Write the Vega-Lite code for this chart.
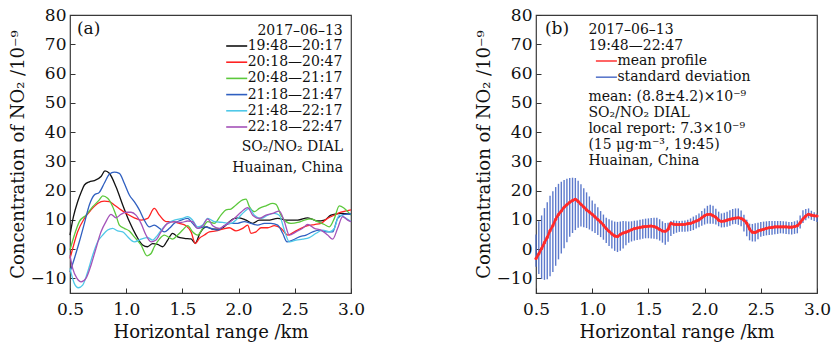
{
  "$schema": "https://vega.github.io/schema/vega-lite/v6.json",
  "autosize": {"type": "pad"},
  "padding": {"left": 8, "top": 5, "right": 0, "bottom": 0},
  "background": "white",
  "bounds": "flush",
  "spacing": 185,
  "config": {
    "font": "DejaVu Serif",
    "view": {"stroke": "#3a3a3a", "strokeWidth": 1.2},
    "axis": {
      "labelFont": "DejaVu Serif", "titleFont": "DejaVu Serif",
      "labelFontSize": 17, "titleFontSize": 18, "titleFontWeight": "normal",
      "labelColor": "#111", "titleColor": "#111",
      "domain": false, "grid": false, "tickColor": "#333", "tickSize": -5, "tickWidth": 1,
      "labelFlush": false, "labelOverlap": false, "labelSeparation": 0, "tickCount": 20
    },
    "axisX": {"labelPadding": 13, "minExtent": 24, "maxExtent": 24, "titlePadding": 6},
    "axisY": {"labelPadding": 9, "minExtent": 38, "maxExtent": 38, "titlePadding": 5},
    "legend": {
      "labelFont": "DejaVu Serif", "titleFont": "DejaVu Serif",
      "labelFontSize": 14, "titleFontSize": 14, "titleFontWeight": "normal",
      "labelColor": "#111", "titleColor": "#111",
      "symbolType": "M-1.5,0H1.5", "symbolSize": 196, "symbolStrokeWidth": 1.6,
      "rowPadding": 1.2, "labelOffset": 3, "padding": 0
    },
    "text": {"font": "DejaVu Serif", "color": "#111"}
  },
  "resolve": {"scale": {"color": "independent"}, "legend": {"color": "independent"}},
  "datasets": {
    "a": [
      {"t":"19:48—20:17","x":0.5,"y":4.8},{"t":"19:48—20:17","x":0.53,"y":11},{"t":"19:48—20:17","x":0.568,"y":16.2},{"t":"19:48—20:17","x":0.6,"y":19.5},{"t":"19:48—20:17","x":0.628,"y":21.9},{"t":"19:48—20:17","x":0.672,"y":23},{"t":"19:48—20:17","x":0.716,"y":23.4},{"t":"19:48—20:17","x":0.776,"y":24.8},{"t":"19:48—20:17","x":0.811,"y":26.7},{"t":"19:48—20:17","x":0.85,"y":25.9},{"t":"19:48—20:17","x":0.909,"y":21.3},{"t":"19:48—20:17","x":0.969,"y":15.1},{"t":"19:48—20:17","x":1.028,"y":9.4},{"t":"19:48—20:17","x":1.087,"y":4.8},{"t":"19:48—20:17","x":1.146,"y":1.4},{"t":"19:48—20:17","x":1.19,"y":0.8},{"t":"19:48—20:17","x":1.235,"y":1.9},{"t":"19:48—20:17","x":1.28,"y":1.6},{"t":"19:48—20:17","x":1.324,"y":0.8},{"t":"19:48—20:17","x":1.369,"y":3.1},{"t":"19:48—20:17","x":1.413,"y":5.4},{"t":"19:48—20:17","x":1.458,"y":4.2},{"t":"19:48—20:17","x":1.517,"y":3.7},{"t":"19:48—20:17","x":1.577,"y":3.5},{"t":"19:48—20:17","x":1.615,"y":2.0},{"t":"19:48—20:17","x":1.654,"y":5.3},{"t":"19:48—20:17","x":1.713,"y":7.6},{"t":"19:48—20:17","x":1.77,"y":6.8},{"t":"19:48—20:17","x":1.846,"y":7.0},{"t":"19:48—20:17","x":1.903,"y":8.8},{"t":"19:48—20:17","x":1.962,"y":10.5},{"t":"19:48—20:17","x":2.006,"y":10.7},{"t":"19:48—20:17","x":2.066,"y":9.9},{"t":"19:48—20:17","x":2.125,"y":8.8},{"t":"19:48—20:17","x":2.184,"y":9.9},{"t":"19:48—20:17","x":2.259,"y":9.9},{"t":"19:48—20:17","x":2.348,"y":10.5},{"t":"19:48—20:17","x":2.437,"y":9.9},{"t":"19:48—20:17","x":2.526,"y":9.9},{"t":"19:48—20:17","x":2.615,"y":10.7},{"t":"19:48—20:17","x":2.703,"y":9.6},{"t":"19:48—20:17","x":2.763,"y":9.9},{"t":"19:48—20:17","x":2.822,"y":11.6},{"t":"19:48—20:17","x":2.911,"y":12.2},{"t":"19:48—20:17","x":3.0,"y":11.9},
      {"t":"20:18—20:47","x":0.5,"y":-3.2},{"t":"20:18—20:47","x":0.524,"y":0.2},{"t":"20:18—20:47","x":0.568,"y":5.9},{"t":"20:18—20:47","x":0.628,"y":10.5},{"t":"20:18—20:47","x":0.687,"y":13.4},{"t":"20:18—20:47","x":0.746,"y":15.6},{"t":"20:18—20:47","x":0.805,"y":16.4},{"t":"20:18—20:47","x":0.85,"y":16.2},{"t":"20:18—20:47","x":0.894,"y":15.1},{"t":"20:18—20:47","x":0.954,"y":13.4},{"t":"20:18—20:47","x":1.013,"y":11.9},{"t":"20:18—20:47","x":1.072,"y":10.7},{"t":"20:18—20:47","x":1.132,"y":9.9},{"t":"20:18—20:47","x":1.191,"y":10.5},{"t":"20:18—20:47","x":1.25,"y":13.9},{"t":"20:18—20:47","x":1.295,"y":11.6},{"t":"20:18—20:47","x":1.354,"y":9.4},{"t":"20:18—20:47","x":1.413,"y":9.4},{"t":"20:18—20:47","x":1.473,"y":8.8},{"t":"20:18—20:47","x":1.532,"y":8.0},{"t":"20:18—20:47","x":1.577,"y":5.9},{"t":"20:18—20:47","x":1.615,"y":1.9},{"t":"20:18—20:47","x":1.651,"y":3.7},{"t":"20:18—20:47","x":1.695,"y":4.8},{"t":"20:18—20:47","x":1.74,"y":5.9},{"t":"20:18—20:47","x":1.799,"y":6.2},{"t":"20:18—20:47","x":1.858,"y":6.8},{"t":"20:18—20:47","x":1.918,"y":7.3},{"t":"20:18—20:47","x":1.977,"y":6.2},{"t":"20:18—20:47","x":2.036,"y":7.1},{"t":"20:18—20:47","x":2.081,"y":8.2},{"t":"20:18—20:47","x":2.11,"y":5.4},{"t":"20:18—20:47","x":2.155,"y":5.9},{"t":"20:18—20:47","x":2.2,"y":7.3},{"t":"20:18—20:47","x":2.259,"y":7.3},{"t":"20:18—20:47","x":2.318,"y":8.0},{"t":"20:18—20:47","x":2.377,"y":7.1},{"t":"20:18—20:47","x":2.437,"y":4.8},{"t":"20:18—20:47","x":2.496,"y":5.9},{"t":"20:18—20:47","x":2.555,"y":7.1},{"t":"20:18—20:47","x":2.615,"y":8.0},{"t":"20:18—20:47","x":2.674,"y":8.4},{"t":"20:18—20:47","x":2.733,"y":8.8},{"t":"20:18—20:47","x":2.792,"y":10.5},{"t":"20:18—20:47","x":2.852,"y":11.6},{"t":"20:18—20:47","x":2.911,"y":12.6},{"t":"20:18—20:47","x":3.0,"y":13.4},
      {"t":"20:48—21:17","x":0.5,"y":-0.3},{"t":"20:48—21:17","x":0.539,"y":4.8},{"t":"20:48—21:17","x":0.583,"y":9.4},{"t":"20:48—21:17","x":0.642,"y":11.6},{"t":"20:48—21:17","x":0.702,"y":14.5},{"t":"20:48—21:17","x":0.761,"y":16.8},{"t":"20:48—21:17","x":0.791,"y":18.2},{"t":"20:48—21:17","x":0.835,"y":17.4},{"t":"20:48—21:17","x":0.88,"y":14.5},{"t":"20:48—21:17","x":0.909,"y":11.6},{"t":"20:48—21:17","x":0.939,"y":8.2},{"t":"20:48—21:17","x":0.983,"y":7.1},{"t":"20:48—21:17","x":1.028,"y":6.2},{"t":"20:48—21:17","x":1.072,"y":4.2},{"t":"20:48—21:17","x":1.132,"y":1.4},{"t":"20:48—21:17","x":1.185,"y":-2.3},{"t":"20:48—21:17","x":1.221,"y":-1.5},{"t":"20:48—21:17","x":1.25,"y":0.8},{"t":"20:48—21:17","x":1.295,"y":3.4},{"t":"20:48—21:17","x":1.339,"y":4.8},{"t":"20:48—21:17","x":1.384,"y":3.9},{"t":"20:48—21:17","x":1.413,"y":3.4},{"t":"20:48—21:17","x":1.458,"y":4.8},{"t":"20:48—21:17","x":1.502,"y":6.5},{"t":"20:48—21:17","x":1.547,"y":8.0},{"t":"20:48—21:17","x":1.591,"y":5.9},{"t":"20:48—21:17","x":1.636,"y":4.8},{"t":"20:48—21:17","x":1.68,"y":7.1},{"t":"20:48—21:17","x":1.725,"y":9.4},{"t":"20:48—21:17","x":1.784,"y":8.8},{"t":"20:48—21:17","x":1.843,"y":11.6},{"t":"20:48—21:17","x":1.888,"y":13.4},{"t":"20:48—21:17","x":1.932,"y":13.7},{"t":"20:48—21:17","x":1.977,"y":15.1},{"t":"20:48—21:17","x":2.036,"y":16.8},{"t":"20:48—21:17","x":2.066,"y":17.1},{"t":"20:48—21:17","x":2.096,"y":14.5},{"t":"20:48—21:17","x":2.14,"y":12.8},{"t":"20:48—21:17","x":2.184,"y":13.9},{"t":"20:48—21:17","x":2.244,"y":14.8},{"t":"20:48—21:17","x":2.303,"y":15.6},{"t":"20:48—21:17","x":2.333,"y":15.3},{"t":"20:48—21:17","x":2.377,"y":11.6},{"t":"20:48—21:17","x":2.422,"y":9.4},{"t":"20:48—21:17","x":2.466,"y":8.8},{"t":"20:48—21:17","x":2.526,"y":9.1},{"t":"20:48—21:17","x":2.585,"y":9.9},{"t":"20:48—21:17","x":2.644,"y":10.3},{"t":"20:48—21:17","x":2.703,"y":9.4},{"t":"20:48—21:17","x":2.763,"y":8.4},{"t":"20:48—21:17","x":2.807,"y":7.6},{"t":"20:48—21:17","x":2.852,"y":10.5},{"t":"20:48—21:17","x":2.896,"y":14.8},{"t":"20:48—21:17","x":2.941,"y":13.9},{"t":"20:48—21:17","x":3.0,"y":11.6},
      {"t":"21:18—21:47","x":0.5,"y":-7.8},{"t":"21:18—21:47","x":0.539,"y":-3.2},{"t":"21:18—21:47","x":0.583,"y":2.5},{"t":"21:18—21:47","x":0.628,"y":8.8},{"t":"21:18—21:47","x":0.672,"y":15.1},{"t":"21:18—21:47","x":0.716,"y":18.5},{"t":"21:18—21:47","x":0.761,"y":19.4},{"t":"21:18—21:47","x":0.805,"y":22.5},{"t":"21:18—21:47","x":0.85,"y":25.6},{"t":"21:18—21:47","x":0.894,"y":26.3},{"t":"21:18—21:47","x":0.939,"y":25.9},{"t":"21:18—21:47","x":0.983,"y":22.5},{"t":"21:18—21:47","x":1.028,"y":18.5},{"t":"21:18—21:47","x":1.072,"y":16.2},{"t":"21:18—21:47","x":1.117,"y":13.4},{"t":"21:18—21:47","x":1.161,"y":9.9},{"t":"21:18—21:47","x":1.206,"y":7.6},{"t":"21:18—21:47","x":1.25,"y":8.2},{"t":"21:18—21:47","x":1.295,"y":7.1},{"t":"21:18—21:47","x":1.339,"y":5.9},{"t":"21:18—21:47","x":1.384,"y":7.1},{"t":"21:18—21:47","x":1.428,"y":8.8},{"t":"21:18—21:47","x":1.488,"y":9.9},{"t":"21:18—21:47","x":1.547,"y":10.5},{"t":"21:18—21:47","x":1.591,"y":8.8},{"t":"21:18—21:47","x":1.636,"y":7.1},{"t":"21:18—21:47","x":1.695,"y":7.6},{"t":"21:18—21:47","x":1.754,"y":7.1},{"t":"21:18—21:47","x":1.814,"y":6.5},{"t":"21:18—21:47","x":1.873,"y":8.0},{"t":"21:18—21:47","x":1.932,"y":8.8},{"t":"21:18—21:47","x":1.992,"y":8.8},{"t":"21:18—21:47","x":2.051,"y":9.4},{"t":"21:18—21:47","x":2.11,"y":8.8},{"t":"21:18—21:47","x":2.17,"y":8.2},{"t":"21:18—21:47","x":2.229,"y":8.8},{"t":"21:18—21:47","x":2.288,"y":8.8},{"t":"21:18—21:47","x":2.348,"y":8.2},{"t":"21:18—21:47","x":2.392,"y":5.4},{"t":"21:18—21:47","x":2.431,"y":2.5},{"t":"21:18—21:47","x":2.481,"y":3.1},{"t":"21:18—21:47","x":2.54,"y":4.2},{"t":"21:18—21:47","x":2.6,"y":4.8},{"t":"21:18—21:47","x":2.659,"y":5.9},{"t":"21:18—21:47","x":2.718,"y":6.5},{"t":"21:18—21:47","x":2.778,"y":5.9},{"t":"21:18—21:47","x":2.837,"y":5.9},{"t":"21:18—21:47","x":2.881,"y":10.5},{"t":"21:18—21:47","x":2.941,"y":11.9},{"t":"21:18—21:47","x":3.0,"y":12.0},
      {"t":"21:48—22:17","x":0.5,"y":-6.6},{"t":"21:48—22:17","x":0.539,"y":-11.8},{"t":"21:48—22:17","x":0.574,"y":-13.2},{"t":"21:48—22:17","x":0.613,"y":-12.3},{"t":"21:48—22:17","x":0.657,"y":-7.8},{"t":"21:48—22:17","x":0.702,"y":-2.1},{"t":"21:48—22:17","x":0.746,"y":2.5},{"t":"21:48—22:17","x":0.791,"y":4.8},{"t":"21:48—22:17","x":0.835,"y":6.5},{"t":"21:48—22:17","x":0.88,"y":7.1},{"t":"21:48—22:17","x":0.924,"y":6.2},{"t":"21:48—22:17","x":0.969,"y":5.9},{"t":"21:48—22:17","x":1.013,"y":4.2},{"t":"21:48—22:17","x":1.072,"y":2.5},{"t":"21:48—22:17","x":1.132,"y":3.4},{"t":"21:48—22:17","x":1.191,"y":3.9},{"t":"21:48—22:17","x":1.235,"y":3.1},{"t":"21:48—22:17","x":1.28,"y":4.8},{"t":"21:48—22:17","x":1.324,"y":7.1},{"t":"21:48—22:17","x":1.369,"y":8.8},{"t":"21:48—22:17","x":1.428,"y":9.9},{"t":"21:48—22:17","x":1.502,"y":10.5},{"t":"21:48—22:17","x":1.547,"y":11.1},{"t":"21:48—22:17","x":1.591,"y":9.9},{"t":"21:48—22:17","x":1.636,"y":7.6},{"t":"21:48—22:17","x":1.68,"y":8.2},{"t":"21:48—22:17","x":1.725,"y":10.5},{"t":"21:48—22:17","x":1.784,"y":9.4},{"t":"21:48—22:17","x":1.858,"y":9.1},{"t":"21:48—22:17","x":1.932,"y":8.8},{"t":"21:48—22:17","x":1.992,"y":10.5},{"t":"21:48—22:17","x":2.051,"y":12.8},{"t":"21:48—22:17","x":2.096,"y":13.9},{"t":"21:48—22:17","x":2.14,"y":11.6},{"t":"21:48—22:17","x":2.2,"y":10.5},{"t":"21:48—22:17","x":2.259,"y":11.6},{"t":"21:48—22:17","x":2.318,"y":12.2},{"t":"21:48—22:17","x":2.362,"y":11.6},{"t":"21:48—22:17","x":2.407,"y":6.5},{"t":"21:48—22:17","x":2.451,"y":2.5},{"t":"21:48—22:17","x":2.511,"y":3.1},{"t":"21:48—22:17","x":2.57,"y":3.4},{"t":"21:48—22:17","x":2.629,"y":3.9},{"t":"21:48—22:17","x":2.689,"y":5.4},{"t":"21:48—22:17","x":2.748,"y":6.5},{"t":"21:48—22:17","x":2.807,"y":5.9},{"t":"21:48—22:17","x":2.852,"y":7.1},{"t":"21:48—22:17","x":2.896,"y":11.6},{"t":"21:48—22:17","x":2.956,"y":10.5},{"t":"21:48—22:17","x":3.0,"y":9.4},
      {"t":"22:18—22:47","x":0.5,"y":-2.1},{"t":"22:18—22:47","x":0.524,"y":-6.6},{"t":"22:18—22:47","x":0.562,"y":-10},{"t":"22:18—22:47","x":0.598,"y":-11.2},{"t":"22:18—22:47","x":0.642,"y":-10},{"t":"22:18—22:47","x":0.687,"y":-5.5},{"t":"22:18—22:47","x":0.731,"y":0.2},{"t":"22:18—22:47","x":0.776,"y":5.9},{"t":"22:18—22:47","x":0.82,"y":9.4},{"t":"22:18—22:47","x":0.865,"y":11.9},{"t":"22:18—22:47","x":0.909,"y":10.7},{"t":"22:18—22:47","x":0.954,"y":11.9},{"t":"22:18—22:47","x":0.998,"y":12.6},{"t":"22:18—22:47","x":1.043,"y":12.6},{"t":"22:18—22:47","x":1.087,"y":11.6},{"t":"22:18—22:47","x":1.132,"y":8.8},{"t":"22:18—22:47","x":1.176,"y":4.8},{"t":"22:18—22:47","x":1.221,"y":2.5},{"t":"22:18—22:47","x":1.265,"y":3.1},{"t":"22:18—22:47","x":1.31,"y":5.9},{"t":"22:18—22:47","x":1.369,"y":8.8},{"t":"22:18—22:47","x":1.428,"y":9.4},{"t":"22:18—22:47","x":1.488,"y":9.1},{"t":"22:18—22:47","x":1.547,"y":9.6},{"t":"22:18—22:47","x":1.591,"y":9.4},{"t":"22:18—22:47","x":1.636,"y":7.1},{"t":"22:18—22:47","x":1.68,"y":8.0},{"t":"22:18—22:47","x":1.725,"y":10.3},{"t":"22:18—22:47","x":1.769,"y":8.0},{"t":"22:18—22:47","x":1.828,"y":7.1},{"t":"22:18—22:47","x":1.903,"y":8.8},{"t":"22:18—22:47","x":1.962,"y":10.5},{"t":"22:18—22:47","x":2.021,"y":12.6},{"t":"22:18—22:47","x":2.081,"y":14.2},{"t":"22:18—22:47","x":2.125,"y":11.6},{"t":"22:18—22:47","x":2.184,"y":10.5},{"t":"22:18—22:47","x":2.244,"y":11.6},{"t":"22:18—22:47","x":2.303,"y":12.2},{"t":"22:18—22:47","x":2.362,"y":13.0},{"t":"22:18—22:47","x":2.407,"y":9.4},{"t":"22:18—22:47","x":2.451,"y":4.8},{"t":"22:18—22:47","x":2.511,"y":5.9},{"t":"22:18—22:47","x":2.57,"y":7.1},{"t":"22:18—22:47","x":2.615,"y":8.4},{"t":"22:18—22:47","x":2.674,"y":7.1},{"t":"22:18—22:47","x":2.733,"y":6.5},{"t":"22:18—22:47","x":2.792,"y":4.8},{"t":"22:18—22:47","x":2.837,"y":3.4},{"t":"22:18—22:47","x":2.881,"y":7.1},{"t":"22:18—22:47","x":2.926,"y":11.1},{"t":"22:18—22:47","x":2.97,"y":9.9},{"t":"22:18—22:47","x":3.0,"y":9.4}
    ],
    "b": [
      {"x":0.5,"m":-3.2,"lo":-6,"hi":5},{"x":0.525,"m":-1.6,"lo":-8.5,"hi":9.5},{"x":0.55,"m":0.2,"lo":-10.2,"hi":11.5},{"x":0.575,"m":2.2,"lo":-10.5,"hi":14},{"x":0.6,"m":4.0,"lo":-10.3,"hi":16},{"x":0.625,"m":6.3,"lo":-9.3,"hi":18.2},{"x":0.65,"m":8.0,"lo":-7.8,"hi":19.8},{"x":0.675,"m":10.2,"lo":-5.7,"hi":21.2},{"x":0.7,"m":11.8,"lo":-3.5,"hi":22.3},{"x":0.725,"m":13.0,"lo":-1.5,"hi":23.0},
      {"x":0.75,"m":14.3,"lo":0.3,"hi":23.6},{"x":0.775,"m":15.2,"lo":2.3,"hi":24.0},{"x":0.8,"m":16.0,"lo":4.2,"hi":24.3},{"x":0.825,"m":16.6,"lo":5.5,"hi":24.4},{"x":0.85,"m":17.0,"lo":6.5,"hi":24.3},{"x":0.875,"m":16.3,"lo":7.3,"hi":23.4},{"x":0.9,"m":15.3,"lo":7.7,"hi":22.2},{"x":0.925,"m":14.4,"lo":7.5,"hi":20.8},{"x":0.95,"m":13.4,"lo":7.2,"hi":19.4},{"x":0.975,"m":12.7,"lo":6.7,"hi":18.0},
      {"x":1.0,"m":11.9,"lo":6.1,"hi":16.6},{"x":1.025,"m":11.0,"lo":5.5,"hi":15.5},{"x":1.05,"m":10.1,"lo":4.8,"hi":14.3},{"x":1.075,"m":9.2,"lo":4.1,"hi":13.0},{"x":1.1,"m":8.2,"lo":3.2,"hi":11.8},{"x":1.125,"m":7.0,"lo":2.1,"hi":10.7},{"x":1.15,"m":6.1,"lo":1.1,"hi":10.2},{"x":1.175,"m":5.2,"lo":0.2,"hi":9.8},{"x":1.2,"m":4.5,"lo":-0.6,"hi":9.4},{"x":1.225,"m":4.3,"lo":-1.0,"hi":9.3},
      {"x":1.25,"m":5.0,"lo":-0.6,"hi":9.4},{"x":1.275,"m":5.5,"lo":0.2,"hi":9.6},{"x":1.3,"m":5.8,"lo":1.3,"hi":9.5},{"x":1.325,"m":6.2,"lo":2.2,"hi":9.4},{"x":1.35,"m":6.6,"lo":2.6,"hi":9.5},{"x":1.375,"m":7.0,"lo":2.9,"hi":9.7},{"x":1.4,"m":7.2,"lo":3.1,"hi":9.8},{"x":1.425,"m":7.4,"lo":3.3,"hi":10.0},{"x":1.45,"m":7.6,"lo":3.5,"hi":10.2},{"x":1.475,"m":7.7,"lo":3.7,"hi":10.4},
      {"x":1.5,"m":7.8,"lo":3.7,"hi":10.5},{"x":1.525,"m":7.9,"lo":3.6,"hi":10.6},{"x":1.55,"m":7.7,"lo":3.5,"hi":10.7},{"x":1.575,"m":7.3,"lo":3.4,"hi":10.7},{"x":1.6,"m":6.7,"lo":2.9,"hi":10.2},{"x":1.625,"m":6.2,"lo":2.2,"hi":9.5},{"x":1.65,"m":6.1,"lo":1.5,"hi":8.9},{"x":1.675,"m":6.8,"lo":2.5,"hi":9.0},{"x":1.7,"m":8.8,"lo":4.5,"hi":9.6},{"x":1.725,"m":8.5,"lo":5.2,"hi":9.8},
      {"x":1.75,"m":8.4,"lo":5.6,"hi":9.7},{"x":1.775,"m":8.4,"lo":5.9,"hi":9.6},{"x":1.8,"m":8.4,"lo":5.9,"hi":9.7},{"x":1.825,"m":8.5,"lo":5.9,"hi":9.8},{"x":1.85,"m":8.7,"lo":6.0,"hi":10.0},{"x":1.875,"m":8.8,"lo":6.2,"hi":10.5},{"x":1.9,"m":9.2,"lo":6.5,"hi":11.1},{"x":1.925,"m":9.6,"lo":7.0,"hi":11.6},{"x":1.95,"m":10.0,"lo":7.5,"hi":12.2},{"x":1.975,"m":10.7,"lo":8.0,"hi":13.0},
      {"x":2.0,"m":11.4,"lo":8.4,"hi":13.9},{"x":2.025,"m":11.8,"lo":8.7,"hi":14.8},{"x":2.05,"m":11.9,"lo":8.7,"hi":15.2},{"x":2.075,"m":11.4,"lo":8.7,"hi":14.8},{"x":2.1,"m":10.9,"lo":8.4,"hi":13.8},{"x":2.125,"m":9.9,"lo":7.8,"hi":12.8},{"x":2.15,"m":9.5,"lo":7.4,"hi":12.2},{"x":2.175,"m":9.6,"lo":7.5,"hi":12.4},{"x":2.2,"m":9.9,"lo":7.6,"hi":12.8},{"x":2.225,"m":10.2,"lo":8.0,"hi":13.3},
      {"x":2.25,"m":10.4,"lo":8.5,"hi":13.7},{"x":2.275,"m":10.6,"lo":8.6,"hi":13.9},{"x":2.3,"m":10.7,"lo":8.3,"hi":13.9},{"x":2.325,"m":10.5,"lo":7.8,"hi":13.2},{"x":2.35,"m":9.9,"lo":6.0,"hi":11.7},{"x":2.375,"m":8.8,"lo":4.4,"hi":10.0},{"x":2.4,"m":6.9,"lo":3.0,"hi":8.7},{"x":2.425,"m":5.8,"lo":2.6,"hi":8.6},{"x":2.45,"m":5.7,"lo":2.6,"hi":8.8},{"x":2.475,"m":6.2,"lo":3.4,"hi":9.0},
      {"x":2.5,"m":6.5,"lo":4.2,"hi":9.3},{"x":2.525,"m":6.8,"lo":4.5,"hi":9.4},{"x":2.55,"m":7.1,"lo":4.7,"hi":9.5},{"x":2.575,"m":7.3,"lo":4.8,"hi":9.6},{"x":2.6,"m":7.4,"lo":4.9,"hi":9.6},{"x":2.625,"m":7.6,"lo":5.1,"hi":9.6},{"x":2.65,"m":7.6,"lo":5.2,"hi":9.6},{"x":2.675,"m":7.6,"lo":5.4,"hi":9.6},{"x":2.7,"m":7.6,"lo":5.3,"hi":9.5},{"x":2.725,"m":7.6,"lo":5.2,"hi":9.4},
      {"x":2.75,"m":7.5,"lo":5.1,"hi":9.3},{"x":2.775,"m":7.5,"lo":5.0,"hi":9.3},{"x":2.8,"m":7.7,"lo":5.2,"hi":9.5},{"x":2.825,"m":8.0,"lo":5.4,"hi":9.8},{"x":2.85,"m":9.0,"lo":7.0,"hi":11.5},{"x":2.875,"m":10.3,"lo":8.9,"hi":13.3},{"x":2.9,"m":11.3,"lo":9.9,"hi":13.7},{"x":2.925,"m":11.9,"lo":10.5,"hi":13.9},{"x":2.95,"m":11.6,"lo":10.0,"hi":13.1},{"x":2.975,"m":11.4,"lo":9.6,"hi":12.6},
      {"x":3.0,"m":11.3,"lo":9.3,"hi":12.2}
    ],
    "notesA": [{"tag": "(a)", "site": "SO₂/NO₂ DIAL\nHuainan, China"}],
    "notesB": [{"tag": "(b)", "head": "2017–06–13\n19:48—22:47", "body": "mean: (8.8±4.2)×10⁻⁹\nSO₂/NO₂ DIAL\nlocal report: 7.3×10⁻⁹\n(15 μg·m⁻³, 19:45)\nHuainan, China"}]
  },
  "hconcat": [
    {
      "width": 281, "height": 278,
      "layer": [
        {
          "data": {"name": "a"},
          "mark": {"type": "line", "strokeWidth": 1.3, "interpolate": "monotone"},
          "encoding": {
            "x": {"field": "x", "type": "quantitative",
                  "scale": {"domain": [0.5, 3.0], "nice": false, "zero": false},
                  "axis": {"values": [0.5, 1, 1.5, 2, 2.5, 3], "format": ".1f", "title": "Horizontal range /km", "labelOverlap": false, "tickCount": 20}},
            "y": {"field": "y", "type": "quantitative",
                  "scale": {"domain": [-15, 80], "nice": false, "zero": false},
                  "axis": {"values": [-10, 0, 10, 20, 30, 40, 50, 60, 70, 80], "title": "Concentration of NO₂ /10⁻⁹", "labelOverlap": false, "tickCount": 20}},
            "color": {"field": "t", "type": "nominal",
                      "scale": {"domain": ["19:48—20:17", "20:18—20:47", "20:48—21:17", "21:18—21:47", "21:48—22:17", "22:18—22:47"],
                                "range": ["#111111", "#ff2222", "#5cc83c", "#2f5fc0", "#4fc8e8", "#a452b8"]},
                      "legend": {"orient": "none", "legendX": 158.7, "legendY": 9, "title": "2017–06–13", "titleAnchor": "end", "titlePadding": 0}}
          }
        },
        {
          "data": {"name": "notesA"},
          "mark": {"type": "text", "align": "left", "baseline": "middle", "fontSize": 17},
          "encoding": {"x": {"datum": 0.562}, "y": {"datum": 75.1}, "text": {"field": "tag"}}
        },
        {
          "data": {"name": "notesA"},
          "mark": {"type": "text", "align": "right", "baseline": "middle", "fontSize": 14, "lineBreak": "\n", "lineHeight": 21.6},
          "encoding": {"x": {"datum": 2.93}, "y": {"datum": 35.05}, "text": {"field": "site"}}
        }
      ]
    },
    {
      "width": 281, "height": 278,
      "layer": [
        {
          "data": {"name": "b"},
          "mark": {"type": "rule", "strokeWidth": 1.4, "opacity": 0.9},
          "encoding": {
            "x": {"field": "x", "type": "quantitative",
                  "scale": {"domain": [0.5, 3.0], "nice": false, "zero": false},
                  "axis": {"values": [0.5, 1, 1.5, 2, 2.5, 3], "format": ".1f", "title": "Horizontal range /km", "labelOverlap": false, "tickCount": 20}},
            "y": {"field": "lo", "type": "quantitative",
                  "scale": {"domain": [-15, 80], "nice": false, "zero": false},
                  "axis": {"values": [-10, 0, 10, 20, 30, 40, 50, 60, 70, 80], "title": "Concentration of NO₂ /10⁻⁹", "labelOverlap": false, "tickCount": 20}},
            "y2": {"field": "hi"},
            "color": {"datum": "standard deviation", "type": "nominal",
                      "scale": {"domain": ["mean profile", "standard deviation"], "range": ["#ff2a2a", "#4b6bc6"]},
                      "legend": {"orient": "none", "legendX": 62.4, "legendY": 38, "title": null}}
          }
        },
        {
          "data": {"name": "b"},
          "mark": {"type": "line", "strokeWidth": 2.6, "interpolate": "monotone", "point": {"filled": true, "size": 10}},
          "encoding": {
            "x": {"field": "x", "type": "quantitative"},
            "y": {"field": "m", "type": "quantitative"},
            "color": {"datum": "mean profile", "type": "nominal"}
          }
        },
        {
          "data": {"name": "notesB"},
          "mark": {"type": "text", "align": "left", "baseline": "middle", "fontSize": 17},
          "encoding": {"x": {"datum": 0.58}, "y": {"datum": 75.1}, "text": {"field": "tag"}}
        },
        {
          "data": {"name": "notesB"},
          "mark": {"type": "text", "align": "left", "baseline": "middle", "fontSize": 14, "lineBreak": "\n", "lineHeight": 16},
          "encoding": {"x": {"datum": 0.966}, "y": {"datum": 74.98}, "text": {"field": "head"}}
        },
        {
          "data": {"name": "notesB"},
          "mark": {"type": "text", "align": "left", "baseline": "middle", "fontSize": 14, "lineBreak": "\n", "lineHeight": 16},
          "encoding": {"x": {"datum": 0.966}, "y": {"datum": 51.9}, "text": {"field": "body"}}
        }
      ]
    }
  ]
}
